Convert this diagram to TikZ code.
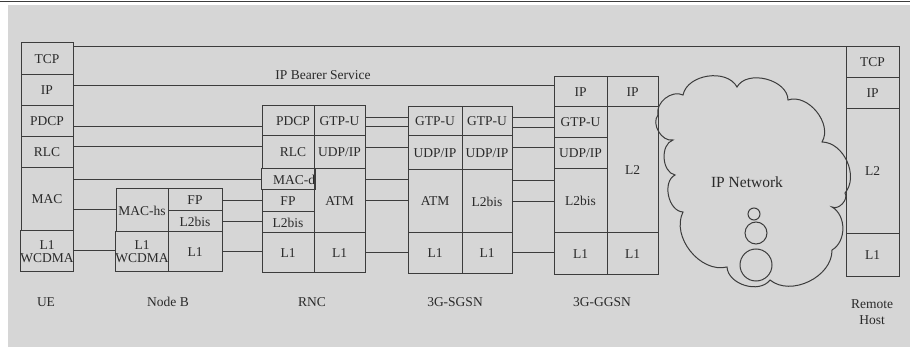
\documentclass[tikz,border=0pt]{standalone}
\usepackage{fontspec}
\setmainfont{Liberation Serif}
\definecolor{paper}{HTML}{D6D6D6}
\definecolor{ink}{HTML}{3C3C3C}
\definecolor{txt}{HTML}{2A2A2A}

% \layercell{name}{x1}{y1}{x2}{y2}{text}: one protocol layer box, pixel-like units
\newcommand\layercell[6]{%
  \node[cell, minimum width={(#4-#2)*1pt}, minimum height={(#5-#3)*1pt}]
    (#1) at ({(#2+#4)/2},{(#3+#5)/2}) {#6};}
% \peerlink{from}{to}{y}: horizontal peer line between two stacks
\newcommand\peerlink[3]{\draw[wire] (#1.east |- 0,#3) -- (#2.west |- 0,#3);}

\begin{document}
\begin{tikzpicture}[x=1pt,y=-1pt,
  cell/.style={draw=ink, line width=1pt, inner sep=0pt, outer sep=0pt,
    text=txt, align=center, font=\fontsize{13.5}{13}\selectfont},
  wire/.style={draw=ink, line width=1pt},
  lbl/.style={text=txt, align=center, inner sep=0pt, font=\fontsize{13.5}{16}\selectfont}]

% paper
\useasboundingbox (0,0) rectangle (910,347);
\fill[white] (0,0) rectangle (910,347);
\fill[paper] (8,5) rectangle (910,347);
\draw[ink, line width=1.5pt] (0,1.5) -- (910,1.5);

% UE
\layercell{uetcp}{21}{43}{73}{75}{TCP}
\layercell{ueip}{21}{75}{73}{106}{IP}
\layercell{uepdcp}{21}{106}{73}{137}{PDCP}
\layercell{uerlc}{21}{137}{73}{168}{RLC}
\layercell{uemac}{21}{168}{73}{231}{MAC}
\layercell{uel1}{21}{231}{73}{272}{L1\\WCDMA}

% Node B
\layercell{nbmac}{116}{189}{168}{232}{MAC-hs}
\layercell{nbl1a}{116}{232}{168}{272}{L1\\WCDMA}
\layercell{nbfp}{168}{189}{222}{211}{FP}
\layercell{nbl2}{168}{211}{222}{232}{L2bis}
\layercell{nbl1}{168}{232}{222}{272}{L1}

% RNC
\layercell{rncpdcp}{262}{106}{314}{136}{\hspace{10pt}PDCP}
\layercell{rncrlc}{262}{136}{314}{169}{\hspace{10pt}RLC}
\layercell{rncmacd}{262}{169}{314}{190}{\raisebox{-4pt}{\hspace{12pt}MAC-d}}
\layercell{rncfp}{262}{190}{314}{212}{FP}
\layercell{rncl2}{262}{212}{314}{233}{L2bis}
\layercell{rncl1a}{262}{233}{314}{273}{L1}
\layercell{rncgtp}{314}{106}{365}{136}{GTP-U}
\layercell{rncudp}{314}{136}{365}{169}{UDP/IP}
\layercell{rncatm}{314}{169}{365}{233}{ATM}
\layercell{rncl1}{314}{233}{365}{273}{L1}

% 3G-SGSN
\layercell{sggtpa}{408}{107}{462}{136}{GTP-U}
\layercell{sgudpa}{408}{136}{462}{170}{UDP/IP}
\layercell{sgatm}{408}{170}{462}{233}{ATM}
\layercell{sgl1a}{408}{233}{462}{274}{L1}
\layercell{sggtp}{462}{107}{512}{136}{GTP-U}
\layercell{sgudp}{462}{136}{512}{170}{UDP/IP}
\layercell{sgl2}{462}{170}{512}{233}{L2bis}
\layercell{sgl1}{462}{233}{512}{274}{L1}

% 3G-GGSN
\layercell{ggipa}{554}{77}{607}{107}{IP}
\layercell{gggtp}{554}{107}{607}{138}{GTP-U}
\layercell{ggudp}{554}{138}{607}{169}{UDP/IP}
\layercell{ggl2bis}{554}{169}{607}{233}{L2bis}
\layercell{ggl1a}{554}{233}{607}{275}{L1}
\layercell{ggip}{607}{77}{658}{107}{IP}
\layercell{ggl2}{607}{107}{658}{233}{L2}
\layercell{ggl1}{607}{233}{658}{275}{L1}

% Remote host
\layercell{rhtcp}{846}{47}{899}{78}{TCP}
\layercell{rhip}{846}{78}{899}{109}{IP}
\layercell{rhl2}{846}{109}{899}{234}{L2}
\layercell{rhl1}{846}{234}{899}{277}{L1}

% peer lines
\peerlink{uetcp}{rhtcp}{47}
\peerlink{ueip}{ggipa}{86}
\peerlink{uepdcp}{rncpdcp}{127}
\peerlink{uerlc}{rncrlc}{147}
\peerlink{uemac}{rncmacd}{180}
\peerlink{uemac}{nbmac}{210}
\peerlink{uel1}{nbl1a}{251}
\peerlink{nbfp}{rncfp}{201}
\peerlink{nbl2}{rncl2}{222}
\peerlink{nbl1}{rncl1a}{252}
\peerlink{rncgtp}{sggtpa}{118}
\peerlink{rncgtp}{sggtpa}{127}
\peerlink{rncudp}{sgudpa}{148}
\peerlink{rncatm}{sgatm}{180}
\peerlink{rncatm}{sgatm}{201}
\peerlink{rncl1}{sgl1a}{253}
\peerlink{sggtp}{gggtp}{118}
\peerlink{sggtp}{gggtp}{128}
\peerlink{sgudp}{ggudp}{148}
\peerlink{sgl2}{ggl2bis}{181}
\peerlink{sgl2}{ggl2bis}{202}
\peerlink{sgl1}{ggl1a}{253}

\node[lbl] (bearer) at (323,75) {IP Bearer Service};

% IP network cloud
\draw[wire] (658,115) to[bend left=65] (683,95) to[bend left=70] (737,87)
  to[bend left=75] (788,100) to[bend left=70] (822,142) to[bend left=65] (845,193)
  to[bend left=75] (832,207) to[bend left=60] (832,250) to[bend left=65] (770,280)
  to[bend left=70] (727,267) to[bend left=65] (683,212) to[bend left=75] (675,175)
  to[bend left=75] (673,140) to[bend left=70] (658,115);
\node[lbl, font=\fontsize{15.5}{18}\selectfont] (ipnet) at (747,182) {IP Network};
\draw[wire] (754,214) circle (6);
\draw[wire] (756,233) circle (11);
\draw[wire] (756,265) circle (16);

% element names
\node[lbl] (nue) at (46,302) {UE};
\node[lbl] (nnb) at (168,302) {Node B};
\node[lbl] (nrnc) at (312,302) {RNC};
\node[lbl] (nsgsn) at (455,302) {3G-SGSN};
\node[lbl] (nggsn) at (602,302) {3G-GGSN};
\node[lbl] (nrh) at (872,312) {Remote\\Host};
\end{tikzpicture}
\end{document}
